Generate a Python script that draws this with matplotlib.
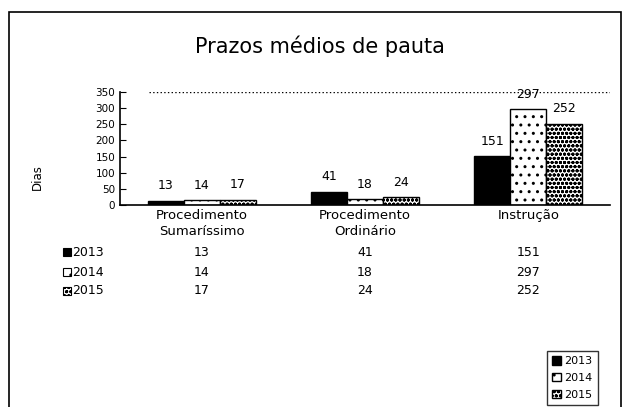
import numpy as np
from matplotlib import pyplot as plt
from matplotlib.patches import Rectangle

plt.rcParams['font.family'] = ['DejaVu Sans']
plt.rcParams['hatch.linewidth'] = 1.0

# data
categories = ['Procedimento\nSumaríssimo', 'Procedimento\nOrdinário', 'Instrução']
years = ['2013', '2014', '2015']
v2013 = [13, 41, 151]
v2014 = [14, 18, 297]
v2015 = [17, 24, 252]
series = [v2013, v2014, v2015]

faces = ['black', 'white', 'white']
hatches = [None, '..', 'oooo']

fig = plt.figure(figsize=(6.26, 4.07), dpi=100)
ax = fig.add_axes([120/626, 1 - 205/407, 490/626, 113/407])

x = np.arange(len(categories))
w = 0.22
bars = []
for i, vals in enumerate(series):
    b = ax.bar(x + (i - 1) * w, vals, w, color=faces[i], edgecolor='black',
               hatch=hatches[i], linewidth=1.0, label=years[i])
    bars.append(b)
    ax.bar_label(b, labels=[str(v) for v in vals], padding=6, fontsize=9)

ax.set_xlim(-0.5, 2.5)
ax.set_ylim(0, 350)
ax.set_yticks(np.arange(0, 351, 50))
ax.tick_params(axis='y', labelsize=7.5, length=4, direction='in')
ax.set_xticks(x)
ax.set_xticklabels(categories, fontsize=9.5, linespacing=1.25)
ax.tick_params(axis='x', length=0, pad=3)
ax.set_ylabel('Dias', fontsize=8.5)
ax.yaxis.set_label_coords(-0.155, 0.25)
ax.axhline(350, xmin=0.06, color='black', linestyle=':', linewidth=1)
for s in ['top', 'right']:
    ax.spines[s].set_visible(False)
ax.spines['left'].set_linewidth(1.2)
ax.spines['bottom'].set_linewidth(1.2)

fig.text(320/626, 1 - 46/407, 'Prazos médios de pauta', ha='center', va='center', fontsize=15)

# data table under the chart
row_y = [252, 272, 291]
trans = ax.get_xaxis_transform()
for i, vals in enumerate(series):
    yy = 1 - (row_y[i] - 92) / 113
    for j, v in enumerate(vals):
        ax.text(x[j], yy, str(v), transform=trans, ha='center', va='center', fontsize=9)
    ax.add_patch(Rectangle((63/626, 1 - (row_y[i] + 4) / 407), 8/626, 8/407,
                           transform=fig.transFigure, facecolor=faces[i], edgecolor='black',
                           hatch=hatches[i], linewidth=0.8, clip_on=False))
    fig.text(72/626, 1 - row_y[i]/407, years[i], ha='left', va='center', fontsize=9)

# legend box bottom right
fig.legend(handles=bars, labels=years, loc='upper left', bbox_to_anchor=(541/626, 1 - 345/407),
           fontsize=8, frameon=True, fancybox=False, edgecolor='black',
           handlelength=0.8, handleheight=0.8, handletextpad=0.3, borderpad=0.5, labelspacing=0.6)

# outer chart border
fig.add_artist(Rectangle((9/626, -0.05), 612/626, 1.05 - 12/407, transform=fig.transFigure,
                         fill=False, edgecolor='black', linewidth=1.2))

fig.savefig('out.png', dpi=100)
